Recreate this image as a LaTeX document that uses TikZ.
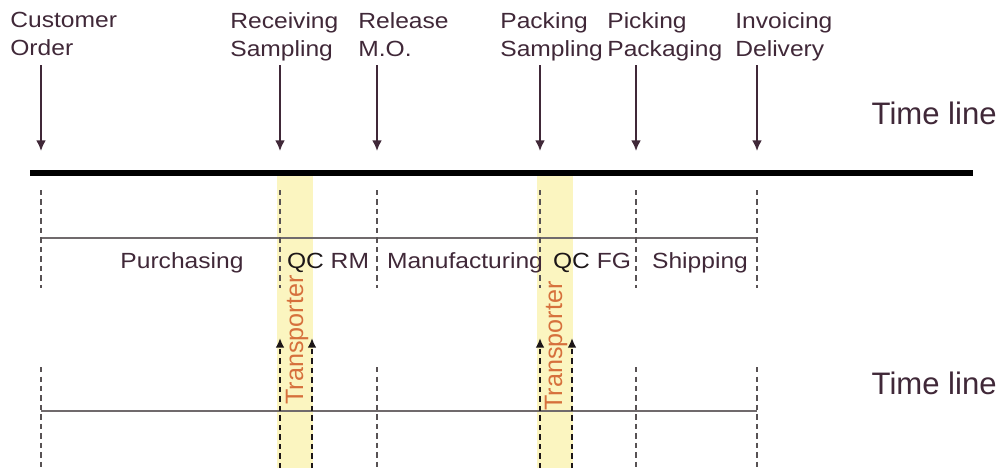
\documentclass[tikz,border=0pt]{standalone}
\usepackage{fontspec}
\setmainfont{Liberation Sans}
\newfontfamily\lblfont[FakeStretch=1.12]{Liberation Sans}
\usetikzlibrary{arrows.meta}

\definecolor{txtcol}{RGB}{64,40,56}
\definecolor{qccol}{RGB}{28,22,24}
\definecolor{transcol}{RGB}{214,112,60}
\definecolor{bandcol}{RGB}{251,245,192}
\definecolor{linecol}{RGB}{112,106,108}
\definecolor{dashcol}{RGB}{88,82,84}

\tikzset{
    evlabel/.style={font=\lblfont\fontsize{12.5}{16}\selectfont, text=txtcol, inner sep=0pt, align=left, anchor=north west},
    phase/.style={font=\lblfont\fontsize{12.5}{15}\selectfont, text=txtcol, inner sep=0pt, anchor=base},
    timelabel/.style={font=\fontsize{17.7}{20}\selectfont, text=txtcol, inner sep=0pt, anchor=base east},
    translabel/.style={font=\fontsize{14.3}{16}\selectfont, text=transcol, inner sep=0pt, anchor=base, rotate=90},
    evarrow/.style={draw=txtcol, line width=1pt, -{Latex[length=6pt,width=5.5pt]}},
    guide/.style={draw=dashcol, line width=1.3pt, dash pattern=on 3pt off 2.4pt},
    transarrow/.style={guide, draw=qccol, -{Latex[length=5.5pt,width=5pt]}},
    band/.style={fill=bandcol, draw=none}
}

\begin{document}
\begin{tikzpicture}[x=0.02cm, y=-0.02cm]
        \useasboundingbox (0,0) rectangle (1003,468);
        % transporter bands
        \fill[band] (277,176) rectangle (313,468);
        \fill[band] (537,176) rectangle (573,468);

        \node[evlabel] (cust) at (10,12) {Customer\\Order};
        \node[evlabel] (recv) at (230,12) {Receiving\\Sampling};
        \node[evlabel] (rel) at (358,12) {Release\\M.O.};
        \node[evlabel] (pack) at (500,12) {Packing\\Sampling};
        \node[evlabel] (pick) at (607,12) {Picking\\Packaging};
        \node[evlabel] (inv) at (735,12) {Invoicing\\Delivery};

        \foreach \n/\x in {cust/41, recv/280, rel/377, pack/540, pick/636, inv/757} {
            \coordinate (\n-top) at (\x,65);
            \coordinate (\n-tip) at (\x,151);
            \draw[evarrow] (\n-top) -- (\n-tip);
        }

        \node[timelabel] (tl1) at (997,124) {Time line};
        \node[timelabel] (tl2) at (997,394) {Time line};

        % time lines
        \coordinate (main-a) at (30,173);
        \coordinate (main-b) at (973,173);
        \draw[black, line width=3pt] (main-a) -- (main-b);
        \draw[linecol, line width=1.3pt] (41,238) -- (757,238);
        \draw[linecol, line width=1.3pt] (41,411) -- (757,411);

        \foreach \x in {41,280,377,540,636,757} {
            \draw[guide] (\x,190) -- (\x,288);
        }
        \foreach \x in {41,377,636,757} {
            \draw[guide] (\x,367) -- (\x,468);
        }
        \foreach \x in {280,312,540,572} {
            \draw[transarrow] (\x,468) -- (\x,338);
        }

        \node[phase] (purch) at (182,268) {Purchasing};
        \node[phase] (qcrm) at (328,268) {\textcolor{qccol}{QC} RM};
        \node[phase] (manuf) at (465,268) {Manufacturing};
        \node[phase] (qcfg) at (592,268) {\textcolor{qccol}{QC} FG};
        \node[phase] (ship) at (700,268) {Shipping};

        \node[translabel] (trans1) at (303,340) {Transporter};
        \node[translabel] (trans2) at (562,346) {Transporter};
\end{tikzpicture}
\end{document}
